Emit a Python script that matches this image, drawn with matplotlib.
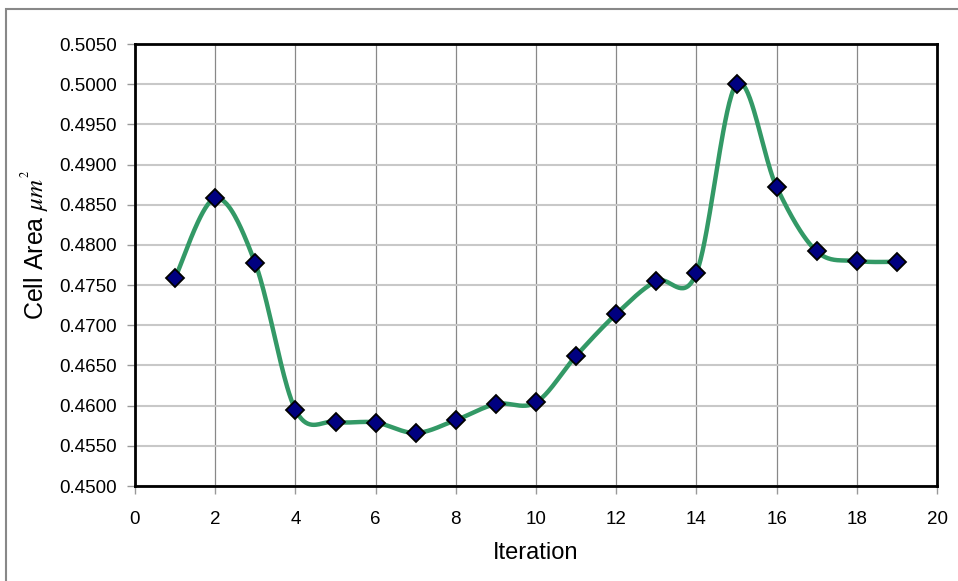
import numpy as np
import matplotlib.pyplot as plt
from matplotlib.patches import Rectangle

plt.rcParams['font.family'] = ['Liberation Sans', 'DejaVu Sans']
plt.rcParams['mathtext.fontset'] = 'stix'

# iteration number and measured cell area
iteration = [1, 2, 3, 4, 5, 6, 7, 8, 9, 10, 11, 12, 13, 14, 15, 16, 17, 18, 19]
cell_area = [0.4759, 0.4858, 0.4777, 0.4595, 0.4580, 0.4579, 0.4566, 0.4582, 0.4602, 0.4604,
             0.4662, 0.4714, 0.4755, 0.4765, 0.5000, 0.4872, 0.4792, 0.4780, 0.4779]

x_ticks = list(range(0, 21, 2))
y_ticks = [0.4500 + 0.005 * i for i in range(12)]


def smooth(xs, ys, n=40):
    # Catmull-Rom style bezier smoothing between consecutive points
    xs = np.asarray(xs, float)
    ys = np.asarray(ys, float)
    px = np.concatenate([[xs[0]], xs, [xs[-1]]])
    py = np.concatenate([[ys[0]], ys, [ys[-1]]])
    t = np.linspace(0, 1, n)
    ox, oy = [], []
    for i in range(1, len(px) - 2):
        p0 = np.array([px[i], py[i]])
        p3 = np.array([px[i + 1], py[i + 1]])
        p1 = p0 + (p3 - np.array([px[i - 1], py[i - 1]])) / 6
        p2 = p3 - (np.array([px[i + 2], py[i + 2]]) - p0) / 6
        b = ((1 - t) ** 3)[:, None] * p0 + (3 * (1 - t) ** 2 * t)[:, None] * p1 \
            + (3 * (1 - t) * t ** 2)[:, None] * p2 + (t ** 3)[:, None] * p3
        ox.extend(b[:, 0])
        oy.extend(b[:, 1])
    return ox, oy


fig = plt.figure(figsize=(9.58, 5.81), dpi=100)
ax = fig.add_axes([135 / 958, 1 - 486 / 581, 802 / 958, 442 / 581])

sx, sy = smooth(iteration, cell_area)
ax.plot(sx, sy, color='#339966', linewidth=3.2, zorder=3)
ax.plot(iteration, cell_area, linestyle='none', marker='D', markersize=9.5,
        markerfacecolor='#000080', markeredgecolor='black', markeredgewidth=1.3, zorder=4)

ax.set_xlim(0, 20)
ax.set_ylim(0.4500, 0.5050)
ax.set_xticks(x_ticks)
ax.set_yticks(y_ticks)
ax.set_yticklabels([f'{v:.4f}' for v in y_ticks])

ax.yaxis.grid(True, color='#c8c8c8', linewidth=1.5)
ax.xaxis.grid(True, color='#888888', linewidth=0.9)
ax.set_axisbelow(True)
for s in ax.spines.values():
    s.set_linewidth(2)
    s.set_color('black')
ax.tick_params(direction='out', length=6, width=1, color='#999999', labelsize=13.5)
ax.tick_params(axis='x', pad=12)
ax.tick_params(axis='y', pad=7)

ax.set_xlabel('Iteration', fontsize=17, labelpad=10)
ax.set_ylabel(r'Cell Area $\mu m^{^2}$', fontsize=18)
ax.yaxis.set_label_coords(-0.103, 0.545)

# chart area border
fig.patches.append(Rectangle((6 / 958, -0.1), 1.2, 1 - 9 / 581 + 0.1, transform=fig.transFigure,
                             fill=False, edgecolor='#888888', linewidth=1.5))

fig.savefig('out.png', dpi=100)
